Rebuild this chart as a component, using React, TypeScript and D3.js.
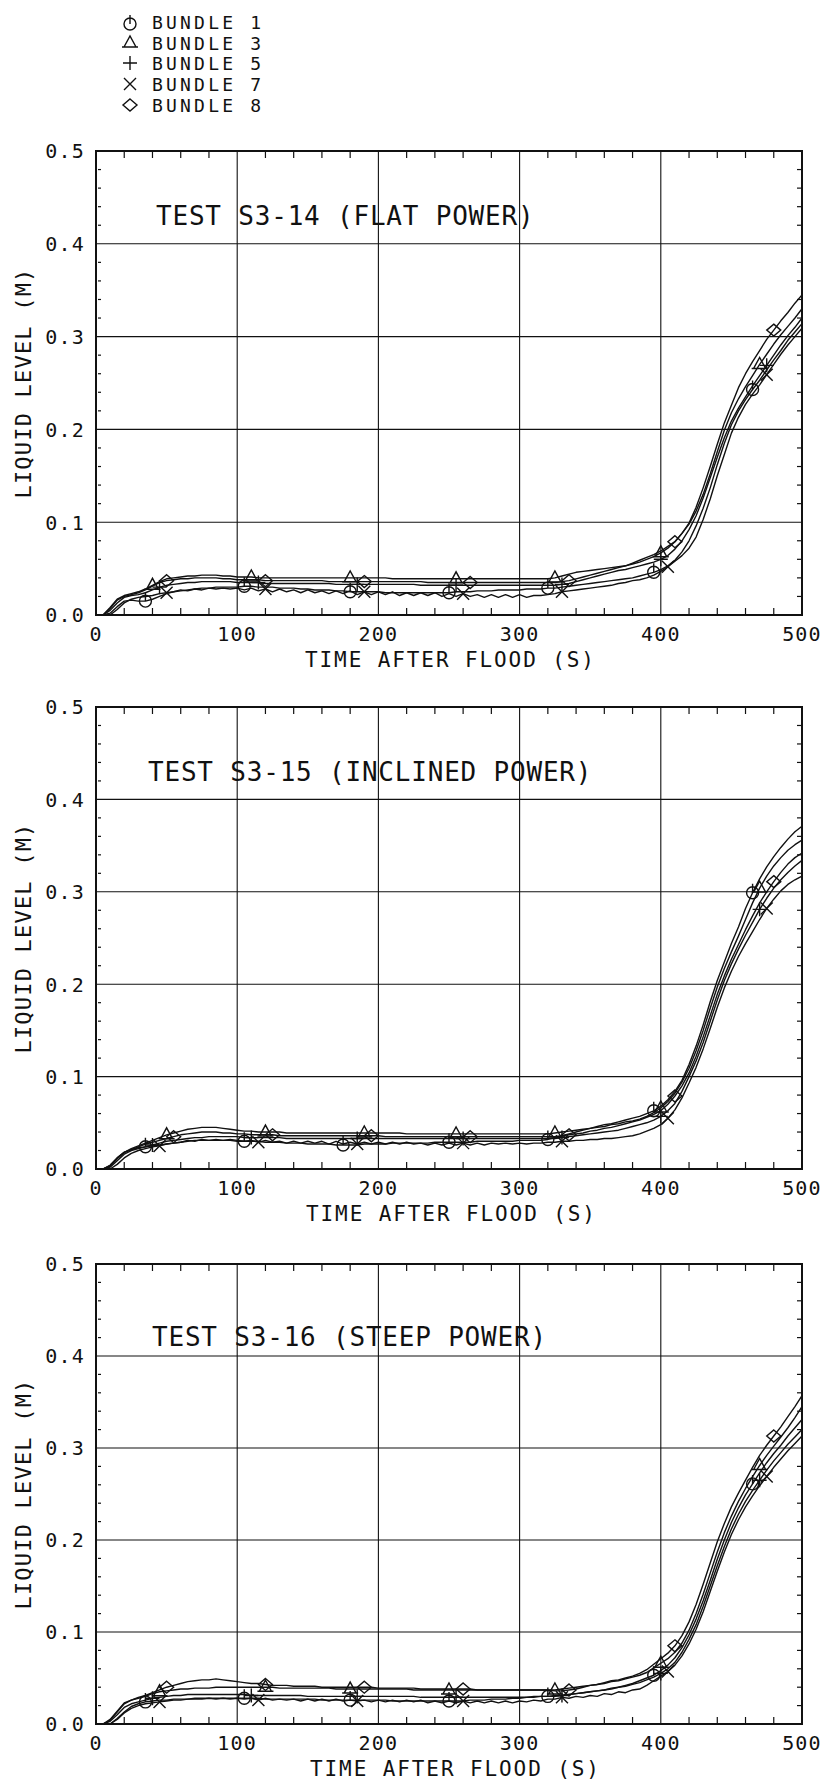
import React from "react";
import * as d3 from "d3";

// Sampling times (s) shared by every series: one reading every 5 s.
const TIME_S = d3.range(0, 501, 5);

// Liquid level readings in millimetres, one value per TIME_S sample.
// ---- Test S3-14 (flat power)
const S314_B1 = [
  0, 0, 2, 9, 15, 16, 15, 15, 17, 20,
  23, 25, 26, 27, 28, 29, 29, 30, 30, 30,
  30, 31, 31, 30, 30, 30, 29, 29, 29, 28,
  28, 27, 27, 27, 26, 26, 25, 25, 25, 25,
  25, 24, 24, 24, 24, 24, 24, 24, 24, 24,
  24, 25, 25, 25, 26, 26, 26, 27, 27, 27,
  27, 28, 28, 28, 29, 29, 30, 31, 32, 33,
  34, 35, 36, 37, 38, 39, 40, 42, 44, 46,
  49, 53, 59, 68, 80, 96, 115, 137, 162, 185,
  205, 220, 232, 243, 253, 264, 275, 285, 296, 305,
  314,
];
const S314_B3 = [
  0, 0, 8, 17, 21, 23, 25, 28, 32, 36,
  39, 40, 41, 42, 42, 43, 43, 43, 42, 42,
  41, 41, 41, 40, 40, 40, 40, 40, 40, 40,
  40, 40, 40, 40, 40, 40, 40, 40, 40, 40,
  40, 40, 39, 39, 39, 39, 39, 39, 39, 39,
  39, 39, 39, 39, 39, 39, 39, 39, 39, 39,
  39, 39, 39, 39, 39, 40, 42, 44, 46, 47,
  48, 49, 50, 51, 52, 53, 55, 57, 60, 63,
  67, 72, 79, 88, 98, 112, 130, 152, 176, 199,
  218, 233, 246, 258, 270, 281, 292, 302, 311, 320,
  330,
];
const S314_B5 = [
  0, 0, 5, 13, 19, 21, 22, 24, 27, 30,
  32, 33, 34, 35, 35, 36, 36, 36, 36, 36,
  35, 35, 35, 35, 34, 34, 34, 34, 34, 34,
  34, 34, 34, 34, 33, 33, 33, 33, 33, 33,
  33, 33, 33, 33, 33, 33, 32, 32, 32, 32,
  32, 32, 32, 32, 32, 32, 32, 32, 32, 32,
  32, 32, 32, 32, 32, 32, 33, 34, 36, 38,
  40, 42, 44, 46, 48, 49, 51, 53, 55, 57,
  60, 64, 71, 80, 92, 107, 126, 148, 170, 191,
  209, 223, 235, 247, 258, 269, 280, 291, 301, 310,
  320,
];
const S314_B7 = [
  0, 0, 0, 6, 13, 17, 19, 20, 21, 23,
  24, 25, 27, 26, 28, 27, 29, 28, 29, 28,
  29, 27, 29, 26, 28, 25, 28, 25, 27, 24,
  27, 24, 26, 23, 26, 23, 26, 22, 25, 22,
  25, 22, 25, 21, 24, 21, 24, 21, 24, 20,
  23, 20, 23, 20, 22, 19, 22, 19, 22, 19,
  22, 19, 21, 21, 22, 23, 25, 26, 27, 28,
  29, 30, 31, 32, 34, 35, 37, 38, 40, 43,
  47, 52, 58, 64, 72, 84, 103, 125, 150, 173,
  196, 213, 227, 238, 248, 259, 270, 281, 291, 300,
  309,
];
const S314_B8 = [
  0, 0, 7, 16, 20, 22, 24, 27, 31, 35,
  37, 38, 39, 39, 40, 40, 40, 40, 39, 39,
  38, 38, 38, 38, 37, 37, 37, 37, 37, 37,
  37, 37, 37, 36, 36, 36, 36, 36, 36, 36,
  36, 36, 36, 36, 36, 36, 36, 35, 35, 35,
  35, 35, 35, 35, 35, 35, 35, 35, 35, 35,
  35, 35, 35, 35, 35, 35, 36, 37, 39, 41,
  43, 45, 47, 49, 51, 53, 56, 59, 62, 65,
  69, 74, 79, 88, 99, 116, 137, 160, 184, 207,
  226, 245, 260, 273, 285, 297, 307, 317, 326, 336,
  345,
];

// ---- Test S3-15 (inclined power)
const S315_B1 = [
  0, 0, 4, 12, 18, 21, 23, 24, 25, 26,
  27, 28, 29, 30, 31, 31, 31, 31, 31, 31,
  30, 30, 30, 30, 29, 29, 29, 28, 28, 28,
  27, 27, 27, 27, 26, 26, 26, 26, 27, 27,
  27, 27, 28, 28, 28, 28, 28, 28, 29, 29,
  29, 29, 29, 29, 30, 30, 30, 30, 30, 30,
  31, 31, 31, 31, 32, 34, 36, 38, 40, 42,
  44, 46, 48, 49, 51, 53, 55, 57, 60, 63,
  68, 75, 84, 96, 113, 133, 156, 181, 204, 224,
  244, 262, 282, 299, 314, 327, 338, 348, 357, 365,
  371,
];
const S315_B3 = [
  0, 0, 3, 11, 18, 22, 25, 28, 31, 34,
  37, 39, 41, 43, 44, 45, 45, 45, 44, 43,
  42, 41, 41, 40, 40, 40, 40, 39, 39, 39,
  39, 39, 39, 39, 39, 39, 39, 39, 39, 39,
  39, 39, 39, 39, 38, 38, 38, 38, 38, 38,
  38, 38, 38, 38, 38, 38, 38, 38, 38, 38,
  38, 38, 38, 38, 38, 39, 40, 41, 42, 43,
  44, 45, 46, 48, 49, 51, 52, 54, 57, 61,
  66, 73, 82, 94, 109, 128, 150, 174, 197, 217,
  235, 252, 270, 288, 304, 317, 328, 337, 345, 351,
  356,
];
const S315_B5 = [
  0, 0, 2, 9, 16, 20, 22, 24, 26, 28,
  30, 31, 32, 33, 34, 34, 35, 35, 35, 35,
  35, 34, 34, 34, 34, 34, 34, 33, 33, 33,
  33, 33, 33, 33, 33, 33, 33, 33, 33, 33,
  33, 33, 33, 33, 33, 33, 33, 33, 33, 33,
  33, 33, 33, 33, 33, 33, 33, 33, 33, 33,
  33, 33, 33, 33, 33, 33, 34, 35, 36, 37,
  38, 39, 40, 41, 42, 44, 46, 48, 50, 53,
  57, 63, 71, 84, 100, 117, 137, 160, 183, 204,
  222, 238, 253, 267, 281, 293, 304, 313, 321, 328,
  334,
];
const S315_B7 = [
  0, 0, 0, 5, 12, 17, 20, 22, 24, 25,
  27, 28, 29, 31, 30, 32, 31, 32, 31, 32,
  31, 30, 31, 29, 31, 29, 30, 28, 30, 28,
  30, 28, 30, 27, 30, 27, 29, 27, 29, 27,
  29, 27, 29, 27, 29, 27, 28, 26, 28, 26,
  28, 26, 28, 26, 28, 26, 28, 27, 28, 27,
  28, 27, 28, 28, 29, 29, 30, 30, 31, 31,
  32, 32, 33, 33, 34, 35, 36, 38, 41, 44,
  48, 55, 64, 77, 93, 110, 130, 152, 175, 196,
  214, 230, 244, 257, 270, 282, 292, 301, 308, 313,
  317,
];
const S315_B8 = [
  0, 0, 4, 12, 18, 21, 24, 27, 29, 31,
  33, 35, 37, 38, 39, 40, 40, 40, 39, 39,
  38, 38, 37, 37, 37, 37, 36, 36, 36, 36,
  36, 36, 36, 36, 36, 36, 36, 36, 36, 36,
  36, 35, 35, 35, 35, 35, 35, 35, 35, 35,
  35, 35, 35, 35, 35, 35, 35, 35, 35, 35,
  35, 35, 35, 35, 35, 35, 36, 37, 38, 39,
  41, 42, 44, 45, 47, 49, 51, 53, 56, 59,
  63, 70, 79, 90, 104, 122, 143, 166, 189, 209,
  227, 243, 259, 274, 288, 300, 311, 321, 330, 337,
  342,
];

// ---- Test S3-16 (steep power)
const S316_B1 = [
  0, 0, 0, 6, 13, 19, 22, 24, 25, 26,
  26, 27, 27, 27, 28, 28, 28, 28, 28, 28,
  28, 28, 28, 28, 27, 27, 27, 27, 27, 27,
  27, 27, 26, 26, 26, 26, 26, 26, 26, 26,
  26, 26, 25, 25, 25, 25, 25, 25, 25, 25,
  25, 25, 25, 26, 26, 26, 27, 27, 27, 28,
  28, 29, 29, 30, 30, 31, 31, 32, 33, 34,
  35, 36, 37, 39, 40, 42, 44, 47, 50, 53,
  58, 64, 72, 83, 97, 114, 134, 156, 179, 200,
  219, 235, 249, 261, 273, 284, 294, 303, 313, 322,
  331,
];
const S316_B3 = [
  0, 0, 5, 14, 23, 26, 28, 30, 33, 35,
  36, 37, 38, 38, 39, 39, 39, 40, 40, 40,
  40, 40, 40, 40, 40, 40, 39, 39, 39, 39,
  39, 39, 39, 39, 38, 38, 38, 38, 38, 38,
  38, 38, 38, 38, 38, 37, 37, 37, 37, 37,
  37, 37, 37, 37, 37, 37, 37, 37, 37, 37,
  37, 37, 37, 37, 37, 37, 38, 39, 40, 41,
  42, 43, 44, 46, 47, 49, 51, 53, 56, 61,
  66, 71, 78, 88, 102, 120, 141, 164, 187, 208,
  226, 242, 256, 269, 281, 292, 302, 312, 322, 333,
  345,
];
const S316_B5 = [
  0, 0, 3, 10, 18, 22, 24, 26, 28, 29,
  30, 31, 31, 32, 32, 32, 32, 32, 32, 32,
  32, 32, 31, 31, 31, 31, 31, 31, 31, 31,
  30, 30, 30, 30, 30, 30, 30, 30, 30, 30,
  30, 30, 30, 30, 30, 30, 29, 29, 29, 29,
  29, 29, 29, 29, 29, 29, 29, 29, 29, 29,
  29, 29, 30, 30, 30, 30, 31, 32, 33, 34,
  35, 36, 37, 38, 40, 41, 43, 45, 48, 51,
  55, 60, 67, 78, 92, 108, 128, 150, 172, 193,
  212, 228, 242, 254, 265, 276, 286, 295, 304, 312,
  320,
];
const S316_B7 = [
  0, 0, 0, 5, 12, 17, 20, 22, 23, 24,
  25, 26, 26, 27, 27, 27, 28, 27, 28, 27,
  28, 27, 28, 26, 28, 26, 27, 26, 27, 25,
  27, 25, 27, 25, 27, 25, 26, 25, 26, 24,
  26, 24, 26, 24, 26, 24, 26, 23, 25, 23,
  25, 23, 25, 23, 25, 23, 25, 23, 25, 23,
  25, 24, 26, 25, 27, 27, 29, 28, 30, 29,
  31, 30, 33, 32, 35, 34, 37, 38, 42, 47,
  52, 57, 64, 74, 87, 103, 122, 144, 166, 187,
  206, 222, 236, 248, 259, 269, 279, 288, 297, 305,
  313,
];
const S316_B8 = [
  0, 0, 4, 13, 22, 26, 29, 31, 34, 37,
  40, 42, 44, 46, 47, 48, 48, 49, 48, 47,
  46, 45, 44, 44, 43, 42, 42, 42, 41, 41,
  41, 41, 40, 40, 40, 40, 40, 40, 40, 40,
  39, 39, 39, 39, 39, 39, 38, 38, 38, 38,
  38, 38, 38, 38, 37, 37, 37, 37, 37, 37,
  37, 37, 37, 37, 37, 36, 36, 37, 38, 40,
  42, 43, 45, 47, 48, 50, 52, 55, 59, 65,
  71, 77, 85, 96, 111, 130, 152, 175, 198, 218,
  236, 251, 265, 279, 292, 303, 313, 323, 334, 345,
  357,
];

// Times (s) at which each bundle's symbol is plotted on its curve.
const S314_MARKS = [
  [35, 105, 180, 250, 320, 395, 465],
  [40, 110, 180, 255, 325, 400, 470],
  [45, 115, 185, 255, 330, 400, 475],
  [50, 120, 190, 260, 330, 405, 475],
  [50, 120, 190, 265, 335, 410, 480],
];
const S315_MARKS = [
  [35, 105, 175, 250, 320, 395, 465],
  [50, 120, 190, 255, 325, 400, 470],
  [40, 110, 185, 260, 330, 400, 470],
  [45, 115, 185, 260, 330, 405, 475],
  [55, 125, 195, 265, 335, 410, 480],
];
const S316_MARKS = [
  [35, 105, 180, 250, 320, 395, 465],
  [45, 120, 180, 250, 325, 400, 470],
  [40, 110, 185, 255, 330, 400, 470],
  [45, 115, 185, 260, 330, 405, 475],
  [50, 120, 190, 260, 335, 410, 480],
];

const BUNDLE_LABELS = ["BUNDLE 1", "BUNDLE 3", "BUNDLE 5", "BUNDLE 7", "BUNDLE 8"];
const BUNDLE_SYMBOLS = ["circle", "triangle", "plus", "cross", "diamond"];
const PANEL_TITLES = [
  "TEST S3-14 (FLAT POWER)",
  "TEST S3-15 (INCLINED POWER)",
  "TEST S3-16 (STEEP POWER)",
];
const X_TICKS = [0, 100, 200, 300, 400, 500];
const Y_TICKS = [0, 0.1, 0.2, 0.3, 0.4, 0.5];
const X_TITLE = "TIME AFTER FLOOD (S)";
const Y_TITLE = "LIQUID LEVEL (M)";

const PANEL_SERIES = [
  [S314_B1, S314_B3, S314_B5, S314_B7, S314_B8],
  [S315_B1, S315_B3, S315_B5, S315_B7, S315_B8],
  [S316_B1, S316_B3, S316_B5, S316_B7, S316_B8],
];
const PANEL_MARKS = [S314_MARKS, S315_MARKS, S316_MARKS];

// ---- Layout
const W = 826;
const H = 1783;
const PLOT_LEFT = 96;
const PLOT_RIGHT = 802;
const LAYOUT = [
  { top: 151, bottom: 615, titleX: 156, titleY: 215, xTitleX: 305 },
  { top: 707, bottom: 1169, titleX: 148, titleY: 771, xTitleX: 306 },
  { top: 1264, bottom: 1724, titleX: 152, titleY: 1336, xTitleX: 310 },
];
const FONT = "'DejaVu Sans Mono', monospace";
const INK = "#111";

function symbolPath(kind: string): string {
  switch (kind) {
    case "circle":
      return "M6,0A6,6 0 1 1 -6,0A6,6 0 1 1 6,0M0,-9L0,0";
    case "triangle":
      return "M-6,4L0,-7L6,4ZM-8,4L8,4";
    case "plus":
      return "M-7,0L7,0M0,-7L0,7";
    case "cross":
      return "M-6,-6L6,6M-6,6L6,-6";
    default:
      return "M0,-6L7,0L0,6L-7,0Z";
  }
}

function Panel({ index }: { index: number }) {
  const lay = LAYOUT[index];
  const x = d3.scaleLinear().domain([0, 500]).range([PLOT_LEFT, PLOT_RIGHT]);
  const y = d3.scaleLinear().domain([0, 0.5]).range([lay.bottom, lay.top]);
  const line = d3
    .line<number>()
    .x((_, i) => x(TIME_S[i]))
    .y((v) => y(v / 1000))
    .curve(d3.curveLinear);
  const fmt = d3.format(".1f");

  const minorX = d3.range(20, 500, 20).filter((t) => t % 100 !== 0);
  const minorY = d3.range(0.02, 0.5, 0.02).filter((v) => Math.abs(v * 10 - Math.round(v * 10)) > 1e-6);
  const series = PANEL_SERIES[index];
  const marks = PANEL_MARKS[index];

  return (
    <g>
      {/* grid */}
      {X_TICKS.slice(1, -1).map((t) => (
        <line key={"gx" + t} x1={x(t)} x2={x(t)} y1={lay.top} y2={lay.bottom} stroke={INK} strokeWidth={1.1} />
      ))}
      {Y_TICKS.slice(1, -1).map((v) => (
        <line key={"gy" + v} x1={PLOT_LEFT} x2={PLOT_RIGHT} y1={y(v)} y2={y(v)} stroke={INK} strokeWidth={1.1} />
      ))}
      {/* minor ticks */}
      {minorX.map((t) => (
        <g key={"mx" + t}>
          <line x1={x(t)} x2={x(t)} y1={lay.bottom} y2={lay.bottom - 7} stroke={INK} strokeWidth={1.2} />
          <line x1={x(t)} x2={x(t)} y1={lay.top} y2={lay.top + 7} stroke={INK} strokeWidth={1.2} />
        </g>
      ))}
      {minorY.map((v) => (
        <g key={"my" + v.toFixed(2)}>
          <line x1={PLOT_LEFT + 2} x2={PLOT_LEFT + 5} y1={y(v)} y2={y(v)} stroke={INK} strokeWidth={1.2} />
          <line x1={PLOT_RIGHT} x2={PLOT_RIGHT - 5} y1={y(v)} y2={y(v)} stroke={INK} strokeWidth={1.2} />
        </g>
      ))}
      {/* frame */}
      <rect
        x={PLOT_LEFT}
        y={lay.top}
        width={PLOT_RIGHT - PLOT_LEFT}
        height={lay.bottom - lay.top}
        fill="none"
        stroke={INK}
        strokeWidth={2}
      />
      {/* curves */}
      {series.map((s, k) => (
        <path key={"c" + k} d={line(s) || ""} fill="none" stroke={INK} strokeWidth={1.4} strokeLinejoin="round" />
      ))}
      {/* symbols */}
      {series.map((s, k) =>
        marks[k].map((t) => {
          const idx = TIME_S.indexOf(t);
          return (
            <path
              key={"s" + k + "-" + t}
              d={symbolPath(BUNDLE_SYMBOLS[k])}
              transform={`translate(${x(TIME_S[idx])},${y(s[idx] / 1000)})`}
              fill="none"
              stroke={INK}
              strokeWidth={1.4}
            />
          );
        })
      )}
      {/* tick labels */}
      {Y_TICKS.map((v) => (
        <text
          key={"ly" + v}
          x={85}
          y={y(v) + 7.3}
          textAnchor="end"
          fontFamily={FONT}
          fontSize={20}
          letterSpacing={1.2}
          fill={INK}
        >
          {fmt(v)}
        </text>
      ))}
      {X_TICKS.map((t) => (
        <text
          key={"lx" + t}
          x={x(t)}
          y={lay.bottom + 26}
          textAnchor="middle"
          fontFamily={FONT}
          fontSize={20}
          letterSpacing={1.2}
          fill={INK}
        >
          {t}
        </text>
      ))}
      {/* titles */}
      <text x={lay.xTitleX} y={lay.bottom + 52} fontFamily={FONT} fontSize={21} letterSpacing={1.9} fill={INK}>
        {X_TITLE}
      </text>
      <text
        transform={`translate(23,${(lay.top + lay.bottom) / 2}) rotate(-90)`}
        dy="0.365em"
        textAnchor="middle"
        fontFamily={FONT}
        fontSize={22}
        letterSpacing={1.2}
        fill={INK}
      >
        {Y_TITLE}
      </text>
      <text x={lay.titleX} y={lay.titleY + 9.5} fontFamily={FONT} fontSize={26} letterSpacing={0.8} fill={INK}>
        {PANEL_TITLES[index]}
      </text>
    </g>
  );
}

function Legend() {
  const rows = [22, 43, 63, 84, 105];
  return (
    <g>
      {BUNDLE_LABELS.map((label, k) => (
        <g key={label}>
          <path
            d={symbolPath(BUNDLE_SYMBOLS[k])}
            transform={`translate(130,${rows[k] + (k === 0 ? 2 : 0)})`}
            fill="none"
            stroke={INK}
            strokeWidth={1.4}
          />
          <text x={152} y={rows[k] + 6.6} fontFamily={FONT} fontSize={18} letterSpacing={3.2} fill={INK}>
            {label}
          </text>
        </g>
      ))}
    </g>
  );
}

export default function App() {
  return (
    <svg
      width={W}
      height={H}
      viewBox={`0 0 ${W} ${H}`}
      style={{ position: "absolute", left: 0, top: 0, background: "#fff" }}
    >
      <rect width={W} height={H} fill="#fff" />
      <Legend />
      {LAYOUT.map((_, i) => (
        <Panel key={i} index={i} />
      ))}
    </svg>
  );
}
